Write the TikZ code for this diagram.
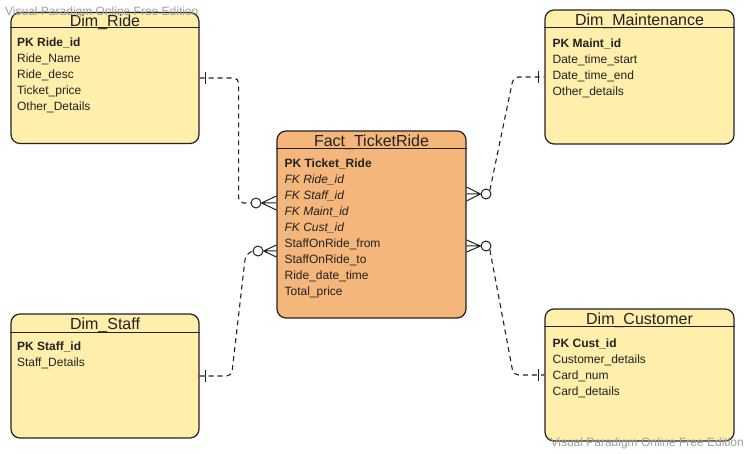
\documentclass[tikz,border=0pt]{standalone}
\usepackage{fontspec}
\setmainfont{Liberation Sans}
\usepackage{xcolor}
\usepackage{tikz}
\usetikzlibrary{calc,positioning,shapes}
\definecolor{dimfill}{HTML}{FFEFAA}
\definecolor{factfill}{HTML}{F4B67A}
\definecolor{ink}{HTML}{222222}
\definecolor{wmgray}{HTML}{9E9E9E}
\tikzset{
    entity/.style={draw=ink, line width=1.2pt, rounded corners=9pt, fill=dimfill, inner sep=0pt},
    head/.style={anchor=north, inner sep=0pt, text=ink, font=\fontsize{16}{18}\selectfont},
    attrs/.style={anchor=north west, align=left, inner sep=0pt, text=ink, font=\fontsize{12}{16}\selectfont},
    headline/.style={draw=ink, line width=1pt},
    rel/.style={draw=ink, line width=1.1pt, dash pattern=on 5pt off 4pt, rounded corners=5pt},
    zero/.style={circle, draw=ink, fill=white, line width=1pt, minimum size=10pt, inner sep=0pt},
    foot/.style={draw=ink, line width=1pt},
    onebar/.style={draw=ink, line width=1.2pt},
    watermark/.style={inner sep=0pt, text=wmgray, font=\fontsize{12}{14}\selectfont},
}
\begin{document}
\begin{tikzpicture}[x=1pt, y=-1pt]
    \useasboundingbox (0,0) rectangle (749,454);

    % fact table
    \node[entity, fill=factfill, minimum width=189pt, minimum height=187pt] (fact) at (371.5,224.5) {};
    \node[head] (factH) at ($(fact.north)+(0,4)$) {Fact\_TicketRide};
    \draw[headline] ($(fact.north west)+(0,18)$) -- ($(fact.north east)+(0,18)$);
    \node[attrs] (factA) at ($(fact.north west)+(8,28)$) {\textbf{PK Ticket\_Ride}\\
        \textit{FK Ride\_id}\\ \textit{FK Staff\_id}\\ \textit{FK Maint\_id}\\ \textit{FK Cust\_id}\\
        StaffOnRide\_from\\ StaffOnRide\_to\\ Ride\_date\_time\\ Total\_price};

    % dim ride
    \node[entity, minimum width=188pt, minimum height=131pt] (ride) at (105,78) {};
    \node[head] (rideH) at ($(ride.north)+(0,2.5)$) {Dim\_Ride};
    \draw[headline] ($(ride.north west)+(0,15.5)$) -- ($(ride.north east)+(0,15.5)$);
    \node[attrs] (rideA) at ($(ride.north west)+(6.5,25.5)$) {\textbf{PK Ride\_id}\\
        Ride\_Name\\ Ride\_desc\\ Ticket\_price\\ Other\_Details};

    % dim maintenance
    \node[entity, minimum width=189pt, minimum height=134pt] (maint) at (639.5,77) {};
    \node[head] (maintH) at ($(maint.north)+(0,4)$) {Dim\_Maintenance};
    \draw[headline] ($(maint.north west)+(0,18)$) -- ($(maint.north east)+(0,18)$);
    \node[attrs] (maintA) at ($(maint.north west)+(8,29)$) {\textbf{PK Maint\_id}\\
        Date\_time\_start\\ Date\_time\_end\\ Other\_details};

    % dim staff
    \node[entity, minimum width=188pt, minimum height=124pt] (staff) at (105,376) {};
    \node[head] (staffH) at ($(staff.north)+(0,4.5)$) {Dim\_Staff};
    \draw[headline] ($(staff.north west)+(0,19)$) -- ($(staff.north east)+(0,19)$);
    \node[attrs] (staffA) at ($(staff.north west)+(6.5,28.5)$) {\textbf{PK Staff\_id}\\
        Staff\_Details};

    % dim customer
    \node[entity, minimum width=189pt, minimum height=132pt] (cust) at (639.5,375) {};
    \node[head] (custH) at ($(cust.north)+(0,4)$) {Dim\_Customer};
    \draw[headline] ($(cust.north west)+(0,18)$) -- ($(cust.north east)+(0,18)$);
    \node[attrs] (custA) at ($(cust.north west)+(8,30)$) {\textbf{PK Cust\_id}\\
        Customer\_details\\ Card\_num\\ Card\_details};

    % zero-or-many ends at the fact table
    \node[zero] (rideO) at (256,203) {};
    \node[zero] (staffO) at (258,251) {};
    \node[zero] (maintO) at (486,194) {};
    \node[zero] (custO) at (486,246) {};

    % crow's feet
    \draw[foot] (rideO.east) -- ($(fact.west |- rideO)+(0,-7)$)
        (rideO.east) -- (fact.west |- rideO)
        (rideO.east) -- ($(fact.west |- rideO)+(0,7)$);
    \draw[foot] (staffO.east) -- ($(fact.west |- staffO)+(0,-6)$)
        (staffO.east) -- (fact.west |- staffO)
        (staffO.east) -- ($(fact.west |- staffO)+(0,6)$);
    \draw[foot] (maintO.west) -- ($(fact.east |- maintO)+(0,-7)$)
        (maintO.west) -- (fact.east |- maintO)
        (maintO.west) -- ($(fact.east |- maintO)+(0,7)$);
    \draw[foot] (custO.west) -- ($(fact.east |- custO)+(0,-6)$)
        (custO.west) -- (fact.east |- custO)
        (custO.west) -- ($(fact.east |- custO)+(0,6)$);

    % relations
    \draw[rel] (ride.east) -- ++(39,0) |- (rideO.west);
    \draw[rel] (staff.east) -- ++(32,0) -- ($(staffO.west)+(-7,4)$) -- (staffO.west);
    \draw[rel] (maintO.north east) -- ($(maint.west)+(-31,0)$) -- (maint.west);
    \draw[rel] (custO.south east) -- ($(cust.west)+(-31,0)$) -- (cust.west);

    % exactly-one bars
    \draw[onebar] ($(ride.east)+(6,-6)$) -- ($(ride.east)+(6,6)$);
    \draw[onebar] ($(staff.east)+(6,-6)$) -- ($(staff.east)+(6,6)$);
    \draw[onebar] ($(maint.west)+(-6,-6)$) -- ($(maint.west)+(-6,6)$);
    \draw[onebar] ($(cust.west)+(-6,-6)$) -- ($(cust.west)+(-6,6)$);

    % watermarks
    \node[watermark, anchor=west] (wmTop) at (5,12) {Visual Paradigm Online Free Edition};
    \node[watermark, anchor=east] (wmBottom) at (744,443) {Visual Paradigm Online Free Edition};
\end{tikzpicture}
\end{document}
